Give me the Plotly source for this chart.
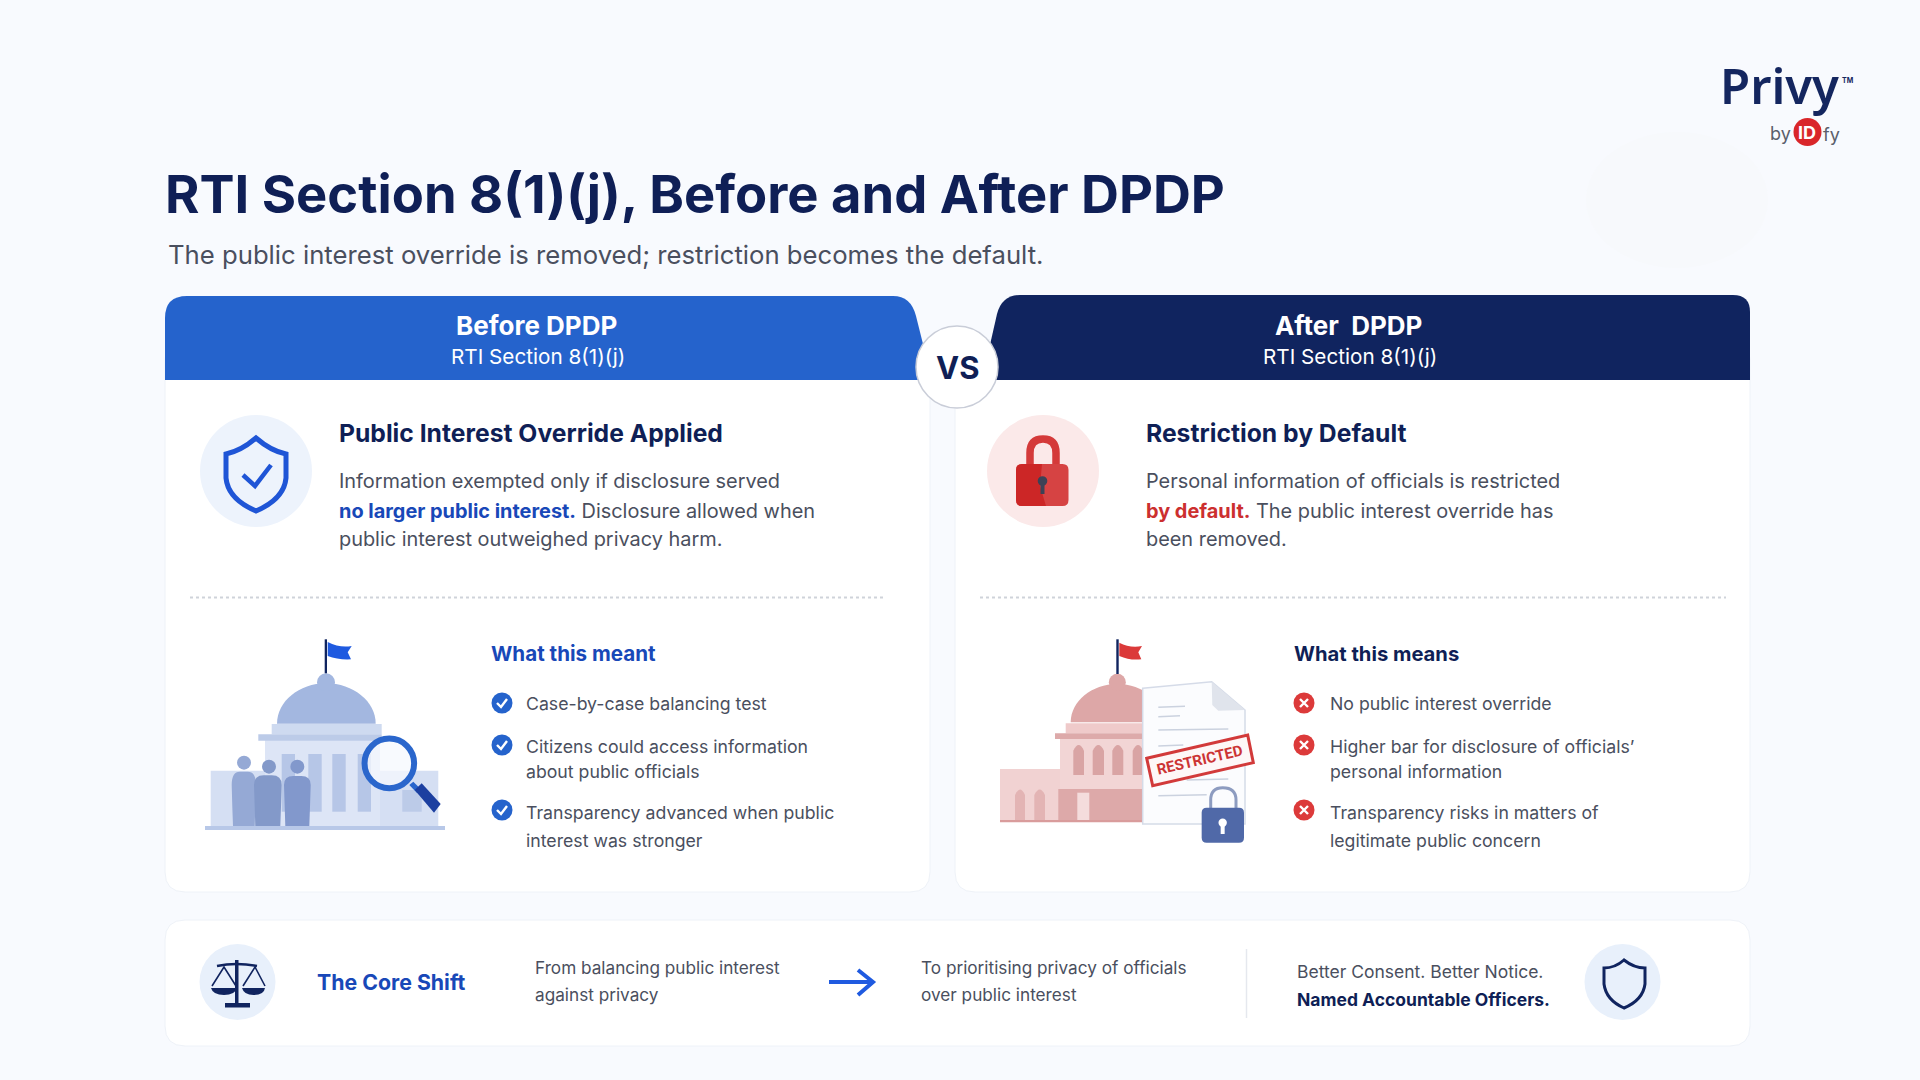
import plotly.graph_objects as go

# Textos do infográfico
TITLE = 'RTI Section 8(1)(j), Before and After DPDP'
SUBTITLE = 'The public interest override is removed; restriction becomes the default.'
HEADERS = ['Before DPDP', 'After  DPDP']
HEADER_SUB = 'RTI Section 8(1)(j)'
CARD_TITLES = ['Public Interest Override Applied', 'Restriction by Default']
BEFORE_BODY = ['Information exempted only if disclosure served',
               '<b style="color:#1848B8">no larger public interest.</b> Disclosure allowed when',
               'public interest outweighed privacy harm.']
AFTER_BODY = ['Personal information of officials is restricted',
              '<b style="color:#CC2F2F">by default.</b> The public interest override has',
              'been removed.']
MEANT = ['Case-by-case balancing test', 'Citizens could access information', 'about public officials',
         'Transparency advanced when public', 'interest was stronger']
MEANS = ['No public interest override', 'Higher bar for disclosure of officials’', 'personal information',
         'Transparency risks in matters of', 'legitimate public concern']
LINE_Y = [703.5, 746, 771.5, 812, 840]
BULLET_Y = [703, 745, 810]
SHIFT_FROM = ['From balancing public interest', 'against privacy']
SHIFT_TO = ['To prioritising privacy of officials', 'over public interest']

NAVY = '#10245F'
INK = '#0F1F56'
BLUE = '#2563CC'
BRIGHT = '#1F5AE0'
GREY = '#4A4F5E'
FONT = 'Inter'

shapes = []
notes = []


def rect(x0, y0, x1, y1, fill, line=None, w=0):
    shapes.append(dict(type='rect', x0=x0, y0=y0, x1=x1, y1=y1, fillcolor=fill,
                       line=dict(color=line or fill, width=w)))


def circ(cx, cy, rx, fill, ry=None, line=None, w=0):
    ry = ry or rx
    shapes.append(dict(type='circle', x0=cx - rx, y0=cy - ry, x1=cx + rx, y1=cy + ry, fillcolor=fill,
                       line=dict(color=line or fill, width=w)))


def path(d, fill=None, line=None, w=0, dash=None):
    shapes.append(dict(type='path', path=d, fillcolor=fill or 'rgba(0,0,0,0)',
                       line=dict(color=line or 'rgba(0,0,0,0)', width=w, dash=dash or 'solid')))


def rrect(x0, y0, x1, y1, r, fill, line=None, w=0):
    path(f'M{x0 + r},{y0} L{x1 - r},{y0} Q{x1},{y0} {x1},{y0 + r} L{x1},{y1 - r} Q{x1},{y1} {x1 - r},{y1} '
         f'L{x0 + r},{y1} Q{x0},{y1} {x0},{y1 - r} L{x0},{y0 + r} Q{x0},{y0} {x0 + r},{y0} Z', fill, line, w)


def text(x, y, s, size, color=GREY, weight=400, anchor='left', family=FONT, angle=0):
    # a anotação tem uma folga de ~2px à esquerda
    if anchor == 'left':
        x -= 2
    notes.append(dict(x=x, y=y, text=s, showarrow=False, xanchor=anchor, yanchor='middle', textangle=angle,
                      font=dict(family=family, size=size, color=color, weight=weight)))


# Fundo
circ(1677, 200, 91, '#F7F9FC', ry=68)

# Cartões
rrect(165, 340, 930, 892, 20, '#FFFFFF', '#EEF2F8', 1)
rrect(955, 340, 1750, 892, 20, '#FFFFFF', '#EEF2F8', 1)
rrect(165, 920, 1750, 1046, 20, '#FFFFFF', '#EEF2F8', 1)

# Cabeçalhos
path('M165,380 L165,318 Q165,296 187,296 L893,296 Q911,296 916,316 L932,380 Z', BLUE)
path('M1750,380 L1750,312 Q1750,295 1733,295 L1020,295 Q1002,295 997,314 L982,380 Z', NAVY)
circ(957, 367, 41, '#FFFFFF', line='#C9CDD8', w=1.5)
text(957, 367, 'VS', 31, INK, 700, 'center')
text(536.5, 325.5, HEADERS[0], 26, '#FFFFFF', 700, 'center')
text(537.5, 356, HEADER_SUB, 20.7, '#FFFFFF', 400, 'center')
text(1348, 325.5, HEADERS[1], 26, '#FFFFFF', 700, 'center')
text(1349.5, 356, HEADER_SUB, 20.7, '#FFFFFF', 400, 'center')

# Ícone escudo azul
circ(256, 471, 56, '#EDF3FC')
path('M256,438 Q271,451 286,454 L286,478 Q284,499 256,511 Q228,499 226,478 L226,454 Q241,451 256,438 Z',
     None, '#1F55D6', 5)
path('M243,475 L255,486 L271,465', None, '#1F55D6', 4.5)

# Ícone cadeado vermelho
circ(1043, 471, 56, '#FBE9E9')
path('M1030,466 L1030,453 Q1030,439 1043,439 Q1056,439 1056,453 L1056,466', None, '#D43A3A', 7.5)
rrect(1016, 464, 1068.5, 506, 6, '#D64343')
path('M1022,464 L1042,464 L1040,486 L1046,506 L1022,506 Q1016,506 1016,500 L1016,470 Q1016,464 1022,464 Z', '#CC2626')
circ(1042.5, 481, 4.8, '#3C4256')
rect(1040.5, 483, 1044.5, 494, '#3C4256')

# Títulos e corpo dos cartões
text(339, 433, CARD_TITLES[0], 24.7, INK, 700)
text(1146, 433, CARD_TITLES[1], 24.7, INK, 700)
for y, a, b in zip([481, 510.5, 539], BEFORE_BODY, AFTER_BODY):
    text(339, y, a, 19.9)
    text(1146, y, b, 19.9)

# Divisórias pontilhadas
for x0, x1 in [(190, 885), (980, 1726)]:
    path(f'M{x0},597.5 L{x1},597.5', None, '#CFD3DA', 2, 'dot')


# Ilustrações: coordenadas locais, 3 unidades por pixel
def L(x, y):
    return f'{180 + x / 3:.1f},{620 + y / 3:.1f}'


def R(x, y):
    return f'{980 + x / 3:.1f},{620 + y / 3:.1f}'


def poly(f, pts, fill, line=None, w=0, close=True):
    d = 'M' + ' L'.join(f(x, y) for x, y in pts) + (' Z' if close else '')
    path(d, fill, line, w)


def dome(f, x0, cx, x1, top, base, fill):
    k = 0.55
    path(f'M{f(x0, base)} C{f(x0, base - k * (base - top))} {f(cx - k * (cx - x0), top)} {f(cx, top)} '
         f'C{f(cx + k * (x1 - cx), top)} {f(x1, base - k * (base - top))} {f(x1, base)} Z', fill)


# Ilustração azul
poly(L, [(92, 452), (775, 452), (775, 620), (92, 620)], '#D5DFF3')
poly(L, [(255, 360), (600, 360), (600, 620), (255, 620)], '#DDE5F6')
poly(L, [(275, 312), (605, 312), (605, 343), (275, 343)], '#CEDAF0')
poly(L, [(235, 343), (605, 343), (605, 362), (235, 362)], '#BCCBE8')
dome(L, 291, 438, 587, 190, 311, '#A3B7E0')
circ(180 + 438 / 3, 620 + 187 / 3, 9, '#A3B7E0')
for x0, x1 in [(305, 345), (385, 425), (457, 497), (533, 573)]:
    poly(L, [(x0, 402), (x1, 402), (x1, 575), (x0, 575)], '#B6C6E7')
poly(L, [(667, 510), (725, 510), (725, 575), (667, 575)], '#BCCBE8')
poly(L, [(75, 618), (795, 618), (795, 630), (75, 630)], '#B8C8E8')
poly(L, [(434, 58), (441, 58), (441, 160), (434, 160)], NAVY)
path(f'M{L(443, 66)} Q{L(480, 85)} {L(515, 78)} L{L(503, 97)} L{L(513, 118)} Q{L(475, 120)} {L(443, 108)} Z', BRIGHT)
for cx, cy, x0, x1, y0, col in [(192, 428, 155, 228, 455, '#95A9D5'), (267, 440, 222, 305, 466, '#8399C9'),
                                (352, 440, 312, 392, 468, '#8298CC')]:
    circ(180 + cx / 3, 620 + cy / 3, 7, col)
    mid = (x0 + x1) / 2
    path(f'M{L(x0 + 4, 618)} L{L(x0 + 2, 560)} L{L(x0, 495)} Q{L(x0, y0)} {L(mid - 12, y0)} L{L(mid + 12, y0)} '
         f'Q{L(x1, y0)} {L(x1, 495)} L{L(x1 - 2, 560)} L{L(x1 - 4, 618)} Z', col)
circ(180 + 628 / 3, 620 + 430 / 3, 24.8, 'rgba(245,248,254,0.75)', line='#2A66CC', w=6)
poly(L, [(688, 495), (700, 485), (725, 510), (712, 520)], '#2A66CC')
poly(L, [(704, 510), (725, 490), (782, 552), (762, 578)], '#1C3FA0')

# Ilustração vermelha
poly(R, [(60, 447), (490, 447), (490, 605), (60, 605)], '#F1D2D2')
poly(R, [(240, 355), (490, 355), (490, 605), (240, 605)], '#F2D5D5')
poly(R, [(257, 310), (490, 310), (490, 340), (257, 340)], '#EFCACA')
poly(R, [(225, 340), (490, 340), (490, 357), (225, 357)], '#DDAAAA')
dome(R, 272, 412, 552, 192, 307, '#DDA7A7')
circ(980 + 412 / 3, 620 + 187 / 3, 8.5, '#DDA7A7')
for x0, x1 in [(280, 312), (338, 372), (397, 430), (458, 490)]:
    path(f'M{R(x0, 465)} L{R(x0, 392)} Q{R((x0 + x1) / 2, 358)} {R(x1, 392)} L{R(x1, 465)} Z', '#D9A4A4')
for x0, x1 in [(105, 135), (163, 195)]:
    path(f'M{R(x0, 600)} L{R(x0, 525)} Q{R((x0 + x1) / 2, 492)} {R(x1, 525)} L{R(x1, 600)} Z', '#E3B4B4')
poly(R, [(235, 507), (490, 507), (490, 605), (235, 605)], '#DDA9A9')
poly(R, [(292, 518), (328, 518), (328, 600), (292, 600)], '#F4DCDC')
poly(R, [(60, 600), (490, 600), (490, 607), (60, 607)], '#D99C9C')
poly(R, [(409, 58), (416, 58), (416, 162), (409, 162)], NAVY)
path(f'M{R(418, 68)} Q{R(450, 85)} {R(486, 78)} L{R(475, 97)} L{R(484, 118)} Q{R(450, 122)} {R(418, 108)} Z', '#DB3A3A')
poly(R, [(488, 205), (695, 185), (795, 270), (795, 612), (488, 612)], '#FBFCFE', '#D5DBE8', 1.5)
poly(R, [(695, 185), (795, 270), (715, 272), (697, 255)], '#E0E4EC')
for x0, x1, y0 in [(535, 615, 262), (535, 600, 290), (535, 745, 330), (535, 610, 378), (620, 745, 480),
                   (535, 680, 527)]:
    path(f'M{R(x0, y0)} L{R(x1, y0 - 3)}', None, '#CBD2DF', 1.6)
poly(R, [(500, 415), (803, 345), (820, 428), (518, 497)], '#FDF7F7', '#D23A3A', 3)
text(980 + 660 / 3, 620 + 421 / 3, 'RESTRICTED', 15, '#CC3434', 700, 'center', 'Roboto', -13)
path(f'M{R(692, 565)} L{R(692, 540)} Q{R(692, 503)} {R(728, 503)} Q{R(768, 503)} {R(768, 540)} L{R(768, 565)}',
     None, '#8D9CC0', 3)
rrect(980 + 665 / 3, 620 + 563 / 3, 980 + 792 / 3, 620 + 668 / 3, 5, '#5069A8')
circ(980 + 728 / 3, 620 + 608 / 3, 4.2, '#FFFFFF')
rect(980 + 722 / 3, 620 + 610 / 3, 980 + 734 / 3, 620 + 642 / 3, '#FFFFFF')

# Listas
text(491, 653, 'What this meant', 20.6, '#1848B8', 700)
text(1294, 653, 'What this means', 20.2, INK, 700)
for y, a, b in zip(LINE_Y, MEANT, MEANS):
    text(526, y, a, 17.7)
    text(1330, y, b, 17.7)
for y in BULLET_Y:
    circ(502, y, 10.5, BLUE)
    path(f'M{497},{y} L{501},{y + 4} L{507},{y - 4}', None, '#FFFFFF', 2.4)
    circ(1304, y, 10.5, '#DC3A3A')
    path(f'M{1300},{y - 4} L{1308},{y + 4} M{1308},{y - 4} L{1300},{y + 4}', None, '#FFFFFF', 2.4)

# Barra inferior
circ(237.5, 982, 38, '#E8F0FB')
rect(235, 960, 238.5, 1005, NAVY)
rect(225, 1003, 250, 1007.5, NAVY)
path('M217,966 Q236,962 257,966', None, NAVY, 2.5)
path('M212,986 L224,967 L236,986 M243,986 L255,967 L265,986', None, NAVY, 1.6)
path('M211,988 L237,988 Q235,995 224,995 Q213,995 211,988 Z', NAVY)
path('M242,988 L265,988 Q264,995 253.5,995 Q244,995 242,988 Z', NAVY)
text(317, 982, 'The Core Shift', 21.3, '#1848B8', 700)
for y, a, b in zip([967, 994], SHIFT_FROM, SHIFT_TO):
    text(535, y, a, 17.2)
    text(921, y, b, 17.2)
path('M829,982 L872,982 M858,970 L873,982 L858,995', None, BRIGHT, 4)
path('M1246.5,949 L1246.5,1018', None, '#E5E8EE', 1.5)
text(1297, 971, 'Better Consent. Better Notice.', 17.5)
text(1297, 999.5, 'Named Accountable Officers.', 17.5, INK, 700)
circ(1622.5, 982, 38, '#E8F0FB')
path('M1624,960 Q1634,968 1645,968 L1645,984 Q1643,1000 1624,1008 Q1606,1000 1604,984 L1604,968 Q1615,968 1624,960 Z',
     None, NAVY, 3)

# Título e subtítulo
text(165, 194, TITLE, 52.5, INK, 700)
text(168, 254.5, SUBTITLE, 25.7)

# Logo
text(1720, 85, 'Privy', 49, '#14265F', 600, family='Noto Sans')
text(1848, 80, 'TM', 7, '#14265F', 700, 'center')
text(1770, 133, 'by', 18, '#5B5F6B')
circ(1807.5, 132, 14, '#D9262A')
text(1807, 132, 'ID', 18, '#FFFFFF', 700, 'center')
text(1823, 134, 'fy', 18, '#5B5F6B')

fig = go.Figure()
fig.update_layout(
    width=1920, height=1080,
    margin=dict(l=0, r=0, t=0, b=0),
    paper_bgcolor='#F8FAFE', plot_bgcolor='#F8FAFE',
    xaxis=dict(range=[0, 1920], visible=False, fixedrange=True),
    yaxis=dict(range=[1080, 0], visible=False, fixedrange=True),
    shapes=shapes, annotations=notes, showlegend=False,
)
fig.write_html('out.html', config={'displayModeBar': False}, post_script="document.body.style.margin='0';")
